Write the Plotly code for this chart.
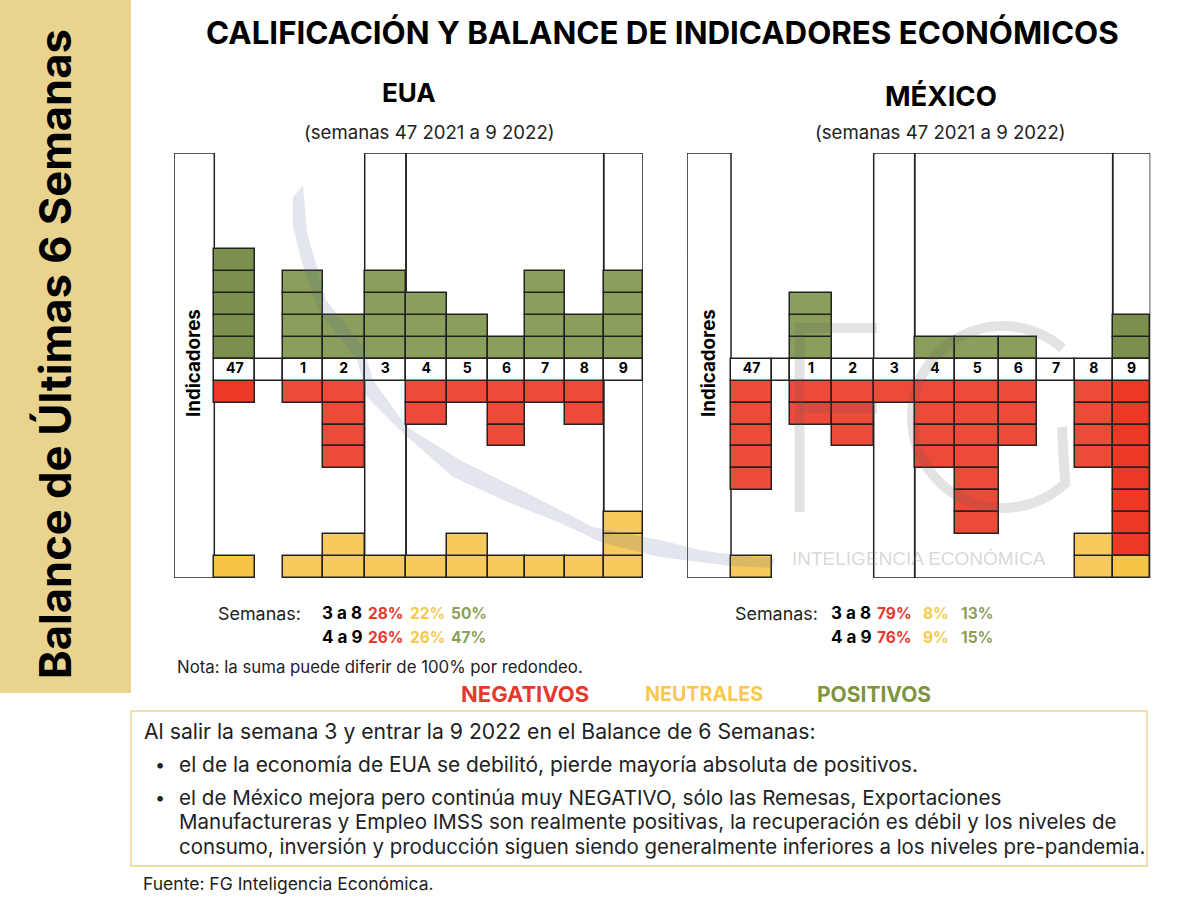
import numpy as np
import plotly.graph_objects as go

W = 1200
H = 907

# datos: numero de indicadores por semana
weeks = ["47", "", "1", "2", "3", "4", "5", "6", "7", "8", "9"]
eua_pos = [5, 0, 4, 2, 4, 3, 2, 1, 4, 2, 4]
eua_neg = [1, 0, 1, 4, 0, 2, 1, 3, 1, 2, 0]
eua_neu = [1, 0, 1, 2, 1, 1, 2, 1, 1, 1, 3]
mex_pos = [0, 0, 3, 0, 0, 1, 1, 1, 0, 0, 2]
mex_neg = [5, 0, 2, 3, 1, 4, 7, 3, 0, 4, 8]
mex_neu = [1, 0, 0, 0, 0, 0, 0, 0, 0, 2, 1]

stat_rows = ["3 a 8", "4 a 9"]
eua_stat_neg = ["28%", "26%"]
eua_stat_neu = ["22%", "26%"]
eua_stat_pos = ["50%", "47%"]
mex_stat_neg = ["79%", "76%"]
mex_stat_neu = ["8%", "9%"]
mex_stat_pos = ["13%", "15%"]

# geometria: bordes de columnas en pixeles de la pagina
EDGES_EUA = [174, 214.3, 255.3, 283.3, 322.7, 364.7, 406, 446.7, 487.7, 525.3, 564.7, 603.7, 643]
EDGES_MEX = [687, 731, 772, 790.3, 831.7, 873.7, 914.7, 955.3, 999.3, 1037.3, 1074.7, 1112.7, 1150.3]
TOP = 153
BOTTOM = 578
ROW = 21.92
Y_MIN = -9.5
Y_MAX = Y_MIN + (BOTTOM - TOP) / ROW

# en la imagen una columna de cada panel sale mas saturada
GREENS = ("#8a9f5b", "#7b904d")
REDS = ("#ee4a3a", "#ee3826")
YELLOWS = ("#f6ca5c", "#f6c545")
DEEP_EUA = 0
DEEP_MEX = 10
INK = "#222222"
GOLD = "#e8d48f"
FONT = "Inter"


def add_cells(fig, counts, edges, start, step, colors, deep, xa, ya):
    xs, bases, widths, fills = [], [], [], []
    for i, n in enumerate(counts):
        for k in range(n):
            xs.append((edges[i + 1] + edges[i + 2]) / 2)
            widths.append(edges[i + 2] - edges[i + 1])
            bases.append(start + step * k)
            fills.append(colors[1] if i == deep else colors[0])
    fig.add_bar(x=xs, y=[1] * len(xs), base=bases, width=widths, xaxis=xa, yaxis=ya,
                marker=dict(color=fills, line=dict(color=INK, width=1.5)),
                hoverinfo="skip", showlegend=False)


def add_panel(fig, pos, neg, neu, edges, deep, xa, ya):
    add_cells(fig, pos, edges, 0.5, 1, GREENS, deep, xa, ya)
    add_cells(fig, neg, edges, -1.5, -1, REDS, deep, xa, ya)
    add_cells(fig, neu, edges, Y_MIN, 1, YELLOWS, deep, xa, ya)
    centers = [(edges[i + 1] + edges[i + 2]) / 2 for i in range(len(weeks))]
    widths = [edges[i + 2] - edges[i + 1] for i in range(len(weeks))]
    fig.add_bar(x=centers, y=[1] * len(weeks), base=[-0.5] * len(weeks), width=widths,
                xaxis=xa, yaxis=ya, hoverinfo="skip", showlegend=False,
                marker=dict(color="white", line=dict(color=INK, width=1.5)))
    fig.add_scatter(x=centers, y=[0] * len(weeks), text=weeks, mode="text", xaxis=xa, yaxis=ya,
                    textfont=dict(family=FONT, size=14, color="black", weight=700),
                    hoverinfo="skip", showlegend=False)


def frames(edges, xref, yref):
    # columna de indicadores, semana 3, semanas 4 a 8 y semana 9
    spans = [(edges[0], edges[1]), (edges[5], edges[6]), (edges[6], edges[11]), (edges[11], edges[12])]
    return [dict(type="rect", xref=xref, yref=yref, x0=a, x1=b, y0=Y_MIN, y1=Y_MAX,
                 line=dict(color=INK, width=1.5), layer="below") for a, b in spans]


def note(x, y, text, size=16, color=INK, bold=False, xanchor="left", angle=0, family=FONT):
    # las anotaciones llevan 2 px de relleno a la izquierda
    if xanchor == "left":
        x = x - 2
    return dict(x=x / W, y=1 - y / H, xref="paper", yref="paper", text=text, showarrow=False,
                xanchor=xanchor, yanchor="middle", textangle=angle,
                font=dict(family=family, size=size, color=color, weight=700 if bold else 400))


def poly(points):
    return "M " + " L ".join(f"{x / W:.5f},{1 - y / H:.5f}" for x, y in points) + " Z"


def line_path(points):
    return "M " + " L ".join(f"{x / W:.5f},{1 - y / H:.5f}" for x, y in points)


fig = go.Figure()
add_panel(fig, eua_pos, eua_neg, eua_neu, EDGES_EUA, DEEP_EUA, "x", "y")
add_panel(fig, mex_pos, mex_neg, mex_neu, EDGES_MEX, DEEP_MEX, "x2", "y2")

shapes = []
shapes.append(dict(type="rect", xref="paper", yref="paper", x0=0, x1=131 / W, y0=1 - 693 / H, y1=1,
                   fillcolor=GOLD, line=dict(width=0), layer="below"))
shapes.append(dict(type="rect", xref="paper", yref="paper", x0=131 / W, x1=1147 / W,
                   y0=1 - 866 / H, y1=1 - 711 / H, fillcolor="white",
                   line=dict(color=GOLD, width=1.5), layer="below"))
shapes += frames(EDGES_EUA, "x", "y")
shapes += frames(EDGES_MEX, "x2", "y2")

# marca de agua: silueta y logotipo FG
silhouette = [(303, 186), (307, 233), (317, 267), (326, 300), (363, 347), (373, 380), (407, 427), (460, 460),
              (527, 493), (593, 527), (660, 540), (700, 550), (740, 556), (775, 558), (772, 568), (730, 566),
              (660, 557), (603, 543), (560, 523), (510, 503), (453, 477), (403, 433), (367, 397), (357, 360),
              (320, 313), (302, 263), (293, 227), (293, 197)]
shapes.append(dict(type="path", xref="paper", yref="paper", path=poly(silhouette),
                   fillcolor="rgba(80,100,145,0.16)", line=dict(width=0), layer="above"))
logo_line = dict(color="rgba(90,90,90,0.17)", width=10)
for seg in ([(799.5, 512), (799.5, 328), (877, 328)], [(799.5, 408), (877, 408)]):
    shapes.append(dict(type="path", xref="paper", yref="paper", path=line_path(seg), line=logo_line, layer="above"))
arc = np.radians(np.linspace(-49, -313, 60))
arc_pts = [(1003 + 91 * np.cos(a), 417 + 91 * np.sin(a)) for a in arc]
arc_pts += [(1062, 427)]
shapes.append(dict(type="path", xref="paper", yref="paper", path=line_path(arc_pts), line=logo_line, layer="above"))

notes = [
    note(55, 354, "Balance de Últimas 6 Semanas", size=43.5, color="black", bold=True, xanchor="center", angle=-90),
    note(662, 33, "CALIFICACIÓN Y BALANCE DE INDICADORES ECONÓMICOS", size=31.3, color="black", bold=True, xanchor="center"),
    note(409, 92, "EUA", size=26, color="black", bold=True, xanchor="center"),
    note(941, 96, "MÉXICO", size=27.5, color="black", bold=True, xanchor="center"),
    note(429, 132, "(semanas 47 2021 a 9 2022)", size=18.6, xanchor="center"),
    note(940, 132, "(semanas 47 2021 a 9 2022)", size=18.6, xanchor="center"),
    note(194, 363, "Indicadores", size=18.7, color="black", bold=True, xanchor="center", angle=-90),
    note(709, 363, "Indicadores", size=18.7, color="black", bold=True, xanchor="center", angle=-90),
    note(218, 613, "Semanas:", size=17.9),
    note(735, 613, "Semanas:", size=17.9),
    note(177, 667, "Nota: la suma puede diferir de 100% por redondeo.", size=16.8),
    note(461, 694, "NEGATIVOS", size=22, color="#e5392d", bold=True),
    note(645, 694, "NEUTRALES", size=19.7, color="#f6c94e", bold=True),
    note(817, 694, "POSITIVOS", size=21, color="#7f9440", bold=True),
    note(144, 731, "Al salir la semana 3 y entrar la 9 2022 en el Balance de 6 Semanas:", size=21.2),
    note(155, 764, "•", size=18),
    note(179, 764, "el de la economía de EUA se debilitó, pierde mayoría absoluta de positivos.", size=20.9),
    note(155, 797, "•", size=18),
    note(179, 797, "el de México mejora pero continúa muy NEGATIVO, sólo las Remesas, Exportaciones", size=20.6),
    note(179, 821, "Manufactureras y Empleo IMSS son realmente positivas, la recuperación es débil y los niveles de", size=20.5),
    note(179, 846, "consumo, inversión y producción siguen siendo generalmente inferiores a los niveles pre-pandemia.", size=20.4),
    note(143, 883, "Fuente: FG Inteligencia Económica.", size=17.5),
    note(792, 558, "INTELIGENCIA ECONÓMICA", size=19, color="rgba(120,120,120,0.3)", family="Liberation Sans"),
]

row_y = [613, 637]
for r in range(2):
    notes.append(note(322, row_y[r], stat_rows[r], size=17, color="black", bold=True))
    notes.append(note(368, row_y[r], eua_stat_neg[r], size=15.5, color="#e5392d", bold=True))
    notes.append(note(410, row_y[r], eua_stat_neu[r], size=15.5, color="#f6c94e", bold=True))
    notes.append(note(451, row_y[r], eua_stat_pos[r], size=15.5, color="#8a9f5b", bold=True))
    notes.append(note(831, row_y[r], stat_rows[r], size=17, color="black", bold=True))
    notes.append(note(877, row_y[r], mex_stat_neg[r], size=15.5, color="#e5392d", bold=True))
    notes.append(note(923, row_y[r], mex_stat_neu[r], size=15.5, color="#f6c94e", bold=True))
    notes.append(note(961, row_y[r], mex_stat_pos[r], size=15.5, color="#8a9f5b", bold=True))

y_domain = [1 - BOTTOM / H, 1 - TOP / H]
fig.update_layout(
    width=W,
    height=H,
    margin=dict(l=0, r=0, t=0, b=0),
    paper_bgcolor="white",
    plot_bgcolor="rgba(0,0,0,0)",
    barmode="overlay",
    bargap=0,
    showlegend=False,
    xaxis=dict(domain=[EDGES_EUA[0] / W, EDGES_EUA[-1] / W], range=[EDGES_EUA[0], EDGES_EUA[-1]], visible=False),
    yaxis=dict(domain=y_domain, range=[Y_MIN, Y_MAX], visible=False),
    xaxis2=dict(domain=[EDGES_MEX[0] / W, EDGES_MEX[-1] / W], range=[EDGES_MEX[0], EDGES_MEX[-1]], visible=False),
    yaxis2=dict(domain=y_domain, range=[Y_MIN, Y_MAX], visible=False, anchor="x2"),
    shapes=shapes,
    annotations=notes,
)

fig.write_html("out.html", config={"displayModeBar": False}, post_script="document.body.style.margin='0';")
